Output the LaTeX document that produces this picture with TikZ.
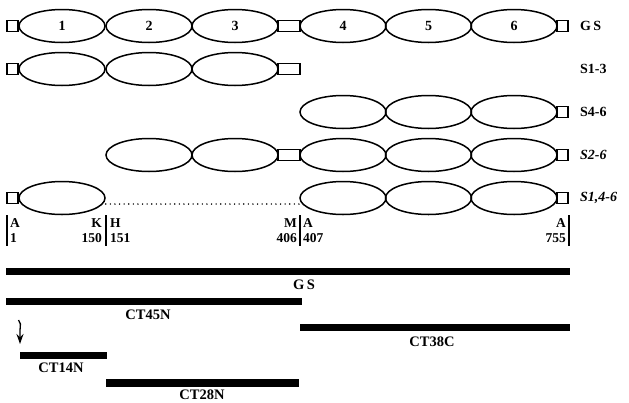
\documentclass[tikz,border=0pt]{standalone}
\usepackage{fontspec}
\setmainfont{Liberation Serif}
\usetikzlibrary{shapes.geometric,arrows.meta}

\begin{document}
\begin{tikzpicture}[x=1pt,y=-1pt,
  dom/.style={draw, ellipse, line width=1.5pt, minimum width=86pt,
    minimum height=33pt, inner sep=0pt, font=\bfseries\fontsize{14}{14}\selectfont},
  tag/.style={draw, rectangle, line width=1.5pt, minimum width=11pt,
    minimum height=11pt, inner sep=0pt, fill=white},
  link/.style={tag, minimum width=22pt},
  rowlabel/.style={font=\bfseries\fontsize{14}{14}\selectfont, inner sep=0pt, anchor=west},
  irowlabel/.style={rowlabel, font=\bfseries\itshape\fontsize{14}{14}\selectfont},
  res/.style={font=\bfseries\fontsize{13.5}{13.5}\selectfont, inner sep=0pt},
  frag/.style={font=\bfseries\fontsize{14.5}{14.5}\selectfont, inner sep=0pt},
  bar/.style={line width=7.5pt},
  bound/.style={line width=1.5pt},
  dotline/.style={line width=1.6pt, line cap=round, dash pattern=on 0pt off 4.6pt}]
\useasboundingbox (0,0) rectangle (629,402);

% full-length protein GS
\node[dom] (gs1) at (62,26) {1};
\node[dom] (gs2) at (149,26) {2};
\node[dom] (gs3) at (235,26) {3};
\node[dom] (gs4) at (343,26) {4};
\node[dom] (gs5) at (428.5,26) {5};
\node[dom] (gs6) at (514,26) {6};
\node[tag] (gsL) at (12.5,26) {};
\node[link] (gsM) at (289,26) {};
\node[tag] (gsR) at (562.5,26) {};
\node[rowlabel] (gsT) at (580,26) {G\,S};

% S1-3
\node[dom] (a1) at (62,69) {};
\node[dom] (a2) at (149,69) {};
\node[dom] (a3) at (235,69) {};
\node[tag] (aL) at (12.5,69) {};
\node[link] (aM) at (289,69) {};
\node[rowlabel] (aT) at (580,69) {S1-3};

% S4-6
\node[dom] (b4) at (343,112) {};
\node[dom] (b5) at (428.5,112) {};
\node[dom] (b6) at (514,112) {};
\node[tag] (bR) at (562.5,112) {};
\node[rowlabel] (bT) at (580,112) {S4-6};

% S2-6
\node[dom] (c2) at (149,155) {};
\node[dom] (c3) at (235,155) {};
\node[dom] (c4) at (343,155) {};
\node[dom] (c5) at (428.5,155) {};
\node[dom] (c6) at (514,155) {};
\node[link] (cM) at (289,155) {};
\node[tag] (cR) at (562.5,155) {};
\node[irowlabel] (cT) at (580,155) {S2-6};

% S1,4-6
\node[dom] (d1) at (62,198) {};
\node[dom] (d4) at (343,198) {};
\node[dom] (d5) at (428.5,198) {};
\node[dom] (d6) at (514,198) {};
\node[tag] (dL) at (12.5,198) {};
\node[tag] (dR) at (562.5,198) {};
\node[irowlabel] (dT) at (580,198) {S1,4-6};
\draw[dotline] ([yshift=-6pt]d1.east) -- ([yshift=-6pt]d4.west);

% residue boundaries
\coordinate (k1t) at (7,215);   \coordinate (k1b) at (7,246);
\coordinate (k2t) at (106,215); \coordinate (k2b) at (106,246);
\coordinate (k3t) at (300,215); \coordinate (k3b) at (300,246);
\coordinate (k4t) at (569,215); \coordinate (k4b) at (569,246);
\foreach \k in {1,...,4} \draw[bound] (k\k t) -- (k\k b);

\node[res, anchor=west] (rA1) at (10,223) {A};
\node[res, anchor=east] (rK)  at (102,223) {K};
\node[res, anchor=west] (rH)  at (110,223) {H};
\node[res, anchor=east] (rM)  at (297,223) {M};
\node[res, anchor=west] (rA2) at (303,223) {A};
\node[res, anchor=east] (rA3) at (566,223) {A};
\node[res, anchor=west] (n1)   at (10,238) {1};
\node[res, anchor=east] (n150) at (102,238) {150};
\node[res, anchor=west] (n151) at (110,238) {151};
\node[res, anchor=east] (n406) at (297,238) {406};
\node[res, anchor=west] (n407) at (303,238) {407};
\node[res, anchor=east] (n755) at (566,238) {755};

% expressed constructs
\coordinate (gsA) at (6,271.5);   \coordinate (gsB) at (570,271.5);
\coordinate (c45A) at (6,301.5);  \coordinate (c45B) at (302,301.5);
\coordinate (c38A) at (300,327.5); \coordinate (c38B) at (570,327.5);
\coordinate (c14A) at (20,355.5); \coordinate (c14B) at (107,355.5);
\coordinate (c28A) at (106,383);  \coordinate (c28B) at (299,383);
\draw[bar] (gsA) -- (gsB);
\draw[bar] (c45A) -- (c45B);
\draw[bar] (c38A) -- (c38B);
\draw[bar] (c14A) -- (c14B);
\draw[bar] (c28A) -- (c28B);

\node[frag] (fGS) at (304,285) {G\,S};
\node[frag] (f45) at (148,315) {CT45N};
\node[frag] (f38) at (432,342) {CT38C};
\node[frag] (f14) at (61,368) {CT14N};
\node[frag] (f28) at (202,394.5) {CT28N};

% start-site arrow
\coordinate (arT) at (18.5,320);
\coordinate (arB) at (20,344);
\draw[line width=1.3pt, -{Stealth[length=10pt, width=7pt]}]
  (arT) .. controls (21,322) and (20.5,325) .. (20,330) -- (arB);
\end{tikzpicture}
\end{document}
